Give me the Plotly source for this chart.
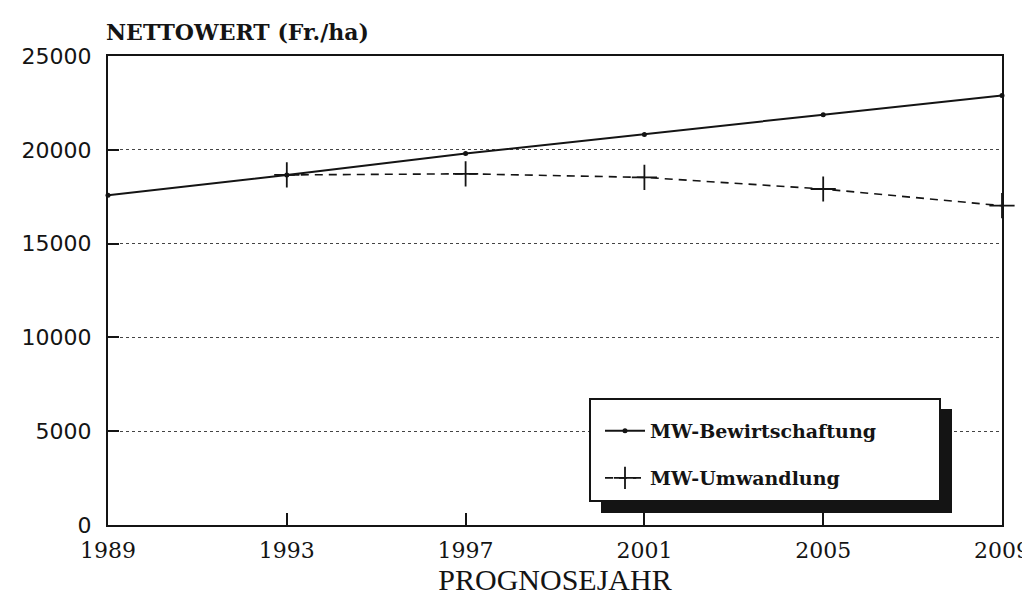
import plotly.graph_objects as go

years = [1989, 1993, 1997, 2001, 2005, 2009]
bewirtschaftung = [17580, 18660, 19800, 20820, 21870, 22900]
umw_years = [1993, 1997, 2001, 2005, 2009]
umwandlung = [18660, 18720, 18530, 17910, 17020]
x_ticks = [1989, 1993, 1997, 2001, 2005, 2009]
y_ticks = [0, 5000, 10000, 15000, 20000, 25000]

INK = "#141414"
W, H = 1030, 601
L, R, T, B = 100, 36, 48, 84
pw, ph = W - L - R, H - T - B

def px(xp):
    return (xp - L) / pw

def py(yp):
    return (H - B - yp) / ph

fig = go.Figure()
fig.add_trace(go.Scatter(
    x=years, y=bewirtschaftung, mode="lines+markers", name="MW-Bewirtschaftung",
    line=dict(color=INK, width=2), marker=dict(size=5, color=INK),
    legend="legend", cliponaxis=False))
fig.add_trace(go.Scatter(
    x=umw_years, y=umwandlung, mode="lines+markers", name="MW-Umwandlung",
    line=dict(color=INK, width=1.6, dash="8px,6px"),
    marker=dict(symbol="cross-thin", size=18, line=dict(color=INK, width=1.8)),
    legend="legend2", cliponaxis=False))

# legend box with shadow
fig.add_shape(type="rect", xref="paper", yref="paper",
              x0=px(593), x1=px(944), y0=py(505), y1=py(401),
              fillcolor=INK, line=dict(width=0), layer="above")
fig.add_shape(type="rect", xref="paper", yref="paper",
              x0=px(582), x1=px(932), y0=py(493), y1=py(391),
              fillcolor="white", line=dict(color=INK, width=2), layer="above")

fig.add_annotation(text="NETTOWERT (Fr./ha)", xref="paper", yref="paper",
                   x=px(96), y=1, xanchor="left", yanchor="bottom", yshift=9,
                   showarrow=False,
                   font=dict(family="DejaVu Serif", size=22, color=INK, weight="bold"))

legfont = dict(family="DejaVu Serif", size=19, color=INK, weight="bold")
fig.update_layout(
    width=W, height=H,
    margin=dict(l=L, r=R, t=T, b=B),
    paper_bgcolor="white", plot_bgcolor="white",
    showlegend=True,
    legend=dict(x=px(592), y=py(423), xanchor="left", yanchor="middle",
                bgcolor="rgba(0,0,0,0)", borderwidth=0, font=legfont, itemwidth=40),
    legend2=dict(x=px(592), y=py(470), xanchor="left", yanchor="middle",
                 bgcolor="rgba(0,0,0,0)", borderwidth=0, font=legfont, itemwidth=40),
    xaxis=dict(range=[1989, 2009], tickvals=x_ticks, ticktext=[str(v) for v in x_ticks],
               showgrid=False, zeroline=False, automargin=False,
               showline=True, linecolor=INK, linewidth=2, mirror=True,
               ticks="inside", ticklen=12, tickwidth=2, tickcolor=INK,
               ticklabelstandoff=5,
               tickfont=dict(family="DejaVu Serif", size=22, color=INK),
               title=dict(text="PROGNOSEJAHR", standoff=6,
                          font=dict(family="Liberation Serif", size=30, color=INK))),
    yaxis=dict(range=[0, 25000], tickvals=y_ticks, ticktext=[str(v) for v in y_ticks],
               showgrid=True, gridcolor="#444", gridwidth=1, griddash="dot",
               zeroline=False, automargin=False,
               showline=True, linecolor=INK, linewidth=2, mirror=True,
               ticks="inside", ticklen=11, tickwidth=2, tickcolor=INK,
               ticklabelstandoff=10,
               tickfont=dict(family="DejaVu Sans", size=22, color=INK)),
)

fig.write_html("out.html")
